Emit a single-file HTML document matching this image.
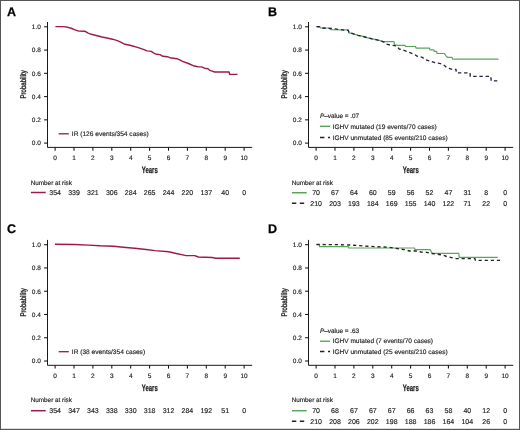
<!DOCTYPE html>
<html><head><meta charset="utf-8"><style>
html,body{margin:0;padding:0;background:#fff;}
body{width:520px;height:430px;overflow:hidden;}
svg{display:block;will-change:transform;}
text{font-family:"Liberation Sans", sans-serif;text-rendering:geometricPrecision;}
.t{fill:#222;stroke:#222;stroke-width:0.15px;}
</style></head><body>
<svg width="520" height="430" viewBox="0 0 520 430">
<rect x="0" y="0" width="520" height="430" fill="#fff"/>

<text x="7.0" y="15.95" font-size="12.5" font-weight="bold" fill="#000" stroke="#000" stroke-width="0.25">A</text>
<path d="M47.5,22.0 V147.4 H252.2" fill="none" stroke="#1a1a1a" stroke-width="1.0"/>
<path d="M44.1,143.10 H47.5" stroke="#111" stroke-width="1.05"/>
<text x="40.9" y="145.40" font-size="6.5" text-anchor="end" class="t">0.0</text>
<path d="M44.1,119.84 H47.5" stroke="#111" stroke-width="1.05"/>
<text x="40.9" y="122.14" font-size="6.5" text-anchor="end" class="t">0.2</text>
<path d="M44.1,96.58 H47.5" stroke="#111" stroke-width="1.05"/>
<text x="40.9" y="98.88" font-size="6.5" text-anchor="end" class="t">0.4</text>
<path d="M44.1,73.32 H47.5" stroke="#111" stroke-width="1.05"/>
<text x="40.9" y="75.62" font-size="6.5" text-anchor="end" class="t">0.6</text>
<path d="M44.1,50.06 H47.5" stroke="#111" stroke-width="1.05"/>
<text x="40.9" y="52.36" font-size="6.5" text-anchor="end" class="t">0.8</text>
<path d="M44.1,26.80 H47.5" stroke="#111" stroke-width="1.05"/>
<text x="40.9" y="29.10" font-size="6.5" text-anchor="end" class="t">1.0</text>
<path d="M55.10,147.4 V150.70000000000002" stroke="#111" stroke-width="1.05"/>
<text x="55.10" y="159.9" font-size="6.5" text-anchor="middle" class="t">0</text>
<path d="M74.00,147.4 V150.70000000000002" stroke="#111" stroke-width="1.05"/>
<text x="74.00" y="159.9" font-size="6.5" text-anchor="middle" class="t">1</text>
<path d="M92.90,147.4 V150.70000000000002" stroke="#111" stroke-width="1.05"/>
<text x="92.90" y="159.9" font-size="6.5" text-anchor="middle" class="t">2</text>
<path d="M111.80,147.4 V150.70000000000002" stroke="#111" stroke-width="1.05"/>
<text x="111.80" y="159.9" font-size="6.5" text-anchor="middle" class="t">3</text>
<path d="M130.70,147.4 V150.70000000000002" stroke="#111" stroke-width="1.05"/>
<text x="130.70" y="159.9" font-size="6.5" text-anchor="middle" class="t">4</text>
<path d="M149.60,147.4 V150.70000000000002" stroke="#111" stroke-width="1.05"/>
<text x="149.60" y="159.9" font-size="6.5" text-anchor="middle" class="t">5</text>
<path d="M168.50,147.4 V150.70000000000002" stroke="#111" stroke-width="1.05"/>
<text x="168.50" y="159.9" font-size="6.5" text-anchor="middle" class="t">6</text>
<path d="M187.40,147.4 V150.70000000000002" stroke="#111" stroke-width="1.05"/>
<text x="187.40" y="159.9" font-size="6.5" text-anchor="middle" class="t">7</text>
<path d="M206.30,147.4 V150.70000000000002" stroke="#111" stroke-width="1.05"/>
<text x="206.30" y="159.9" font-size="6.5" text-anchor="middle" class="t">8</text>
<path d="M225.20,147.4 V150.70000000000002" stroke="#111" stroke-width="1.05"/>
<text x="225.20" y="159.9" font-size="6.5" text-anchor="middle" class="t">9</text>
<path d="M244.10,147.4 V150.70000000000002" stroke="#111" stroke-width="1.05"/>
<text x="244.10" y="159.9" font-size="6.5" text-anchor="middle" class="t">10</text>
<text transform="translate(26.0,84.4) rotate(-90) scale(0.74,1)" font-size="8.2" text-anchor="middle" fill="#222" stroke="#222" stroke-width="0.35">Probability</text>
<text transform="translate(149.8,172.9) scale(0.64,1)" font-size="9.3" font-weight="bold" text-anchor="middle" fill="#222" stroke="#222" stroke-width="0.25">Years</text>
<polyline points="55.40,26.60 63.50,26.60 67.90,27.30 71.20,28.25 75.10,29.90 78.90,31.10 85.20,31.30 88.10,33.10 91.40,34.30 97.20,35.75 102.00,37.00 105.80,37.80 112.50,39.20 117.30,40.65 120.70,42.10 125.00,44.30 130.80,45.50 137.50,47.40 143.30,49.30 147.10,50.90 151.40,51.40 153.80,53.20 156.70,54.30 160.00,54.60 162.90,56.30 167.20,56.70 170.10,57.70 176.80,58.70 179.70,59.90 182.60,61.30 188.40,63.50 193.20,65.70 198.00,66.70 201.70,66.90 204.60,68.20 208.00,68.70 209.90,70.40 212.80,71.30 214.70,72.00 229.10,72.00 229.60,74.40 237.50,74.40" fill="none" stroke="#9e1a45" stroke-width="1.4" stroke-linejoin="round"/>
<path d="M58.7,133.79999999999998 H68.8" stroke="#85203f" stroke-width="1.3"/><text x="71.8" y="136.29999999999998" font-size="6.6" class="t">IR (126 events/354 cases)</text>
<text x="30.7" y="184.5" font-size="6.35" class="t">Number at risk</text>
<path d="M30.9,192.5 H45.7" stroke="#9e1a45" stroke-width="1.5"/>
<text x="55.10" y="195.00" font-size="7" text-anchor="middle" class="t">354</text>
<text x="74.00" y="195.00" font-size="7" text-anchor="middle" class="t">339</text>
<text x="92.90" y="195.00" font-size="7" text-anchor="middle" class="t">321</text>
<text x="111.80" y="195.00" font-size="7" text-anchor="middle" class="t">306</text>
<text x="130.70" y="195.00" font-size="7" text-anchor="middle" class="t">284</text>
<text x="149.60" y="195.00" font-size="7" text-anchor="middle" class="t">265</text>
<text x="168.50" y="195.00" font-size="7" text-anchor="middle" class="t">244</text>
<text x="187.40" y="195.00" font-size="7" text-anchor="middle" class="t">220</text>
<text x="206.30" y="195.00" font-size="7" text-anchor="middle" class="t">137</text>
<text x="225.20" y="195.00" font-size="7" text-anchor="middle" class="t">40</text>
<text x="244.10" y="195.00" font-size="7" text-anchor="middle" class="t">0</text>
<text x="268.0" y="15.95" font-size="12.5" font-weight="bold" fill="#000" stroke="#000" stroke-width="0.25">B</text>
<path d="M308.5,22.0 V147.4 H513.2" fill="none" stroke="#1a1a1a" stroke-width="1.0"/>
<path d="M305.1,143.10 H308.5" stroke="#111" stroke-width="1.05"/>
<text x="301.9" y="145.40" font-size="6.5" text-anchor="end" class="t">0.0</text>
<path d="M305.1,119.84 H308.5" stroke="#111" stroke-width="1.05"/>
<text x="301.9" y="122.14" font-size="6.5" text-anchor="end" class="t">0.2</text>
<path d="M305.1,96.58 H308.5" stroke="#111" stroke-width="1.05"/>
<text x="301.9" y="98.88" font-size="6.5" text-anchor="end" class="t">0.4</text>
<path d="M305.1,73.32 H308.5" stroke="#111" stroke-width="1.05"/>
<text x="301.9" y="75.62" font-size="6.5" text-anchor="end" class="t">0.6</text>
<path d="M305.1,50.06 H308.5" stroke="#111" stroke-width="1.05"/>
<text x="301.9" y="52.36" font-size="6.5" text-anchor="end" class="t">0.8</text>
<path d="M305.1,26.80 H308.5" stroke="#111" stroke-width="1.05"/>
<text x="301.9" y="29.10" font-size="6.5" text-anchor="end" class="t">1.0</text>
<path d="M316.10,147.4 V150.70000000000002" stroke="#111" stroke-width="1.05"/>
<text x="316.10" y="159.9" font-size="6.5" text-anchor="middle" class="t">0</text>
<path d="M335.00,147.4 V150.70000000000002" stroke="#111" stroke-width="1.05"/>
<text x="335.00" y="159.9" font-size="6.5" text-anchor="middle" class="t">1</text>
<path d="M353.90,147.4 V150.70000000000002" stroke="#111" stroke-width="1.05"/>
<text x="353.90" y="159.9" font-size="6.5" text-anchor="middle" class="t">2</text>
<path d="M372.80,147.4 V150.70000000000002" stroke="#111" stroke-width="1.05"/>
<text x="372.80" y="159.9" font-size="6.5" text-anchor="middle" class="t">3</text>
<path d="M391.70,147.4 V150.70000000000002" stroke="#111" stroke-width="1.05"/>
<text x="391.70" y="159.9" font-size="6.5" text-anchor="middle" class="t">4</text>
<path d="M410.60,147.4 V150.70000000000002" stroke="#111" stroke-width="1.05"/>
<text x="410.60" y="159.9" font-size="6.5" text-anchor="middle" class="t">5</text>
<path d="M429.50,147.4 V150.70000000000002" stroke="#111" stroke-width="1.05"/>
<text x="429.50" y="159.9" font-size="6.5" text-anchor="middle" class="t">6</text>
<path d="M448.40,147.4 V150.70000000000002" stroke="#111" stroke-width="1.05"/>
<text x="448.40" y="159.9" font-size="6.5" text-anchor="middle" class="t">7</text>
<path d="M467.30,147.4 V150.70000000000002" stroke="#111" stroke-width="1.05"/>
<text x="467.30" y="159.9" font-size="6.5" text-anchor="middle" class="t">8</text>
<path d="M486.20,147.4 V150.70000000000002" stroke="#111" stroke-width="1.05"/>
<text x="486.20" y="159.9" font-size="6.5" text-anchor="middle" class="t">9</text>
<path d="M505.10,147.4 V150.70000000000002" stroke="#111" stroke-width="1.05"/>
<text x="505.10" y="159.9" font-size="6.5" text-anchor="middle" class="t">10</text>
<text transform="translate(287.0,84.4) rotate(-90) scale(0.74,1)" font-size="8.2" text-anchor="middle" fill="#222" stroke="#222" stroke-width="0.35">Probability</text>
<text transform="translate(410.8,172.9) scale(0.64,1)" font-size="9.3" font-weight="bold" text-anchor="middle" fill="#222" stroke="#222" stroke-width="0.25">Years</text>
<polyline points="316.50,26.60 320.00,26.80 320.50,28.00 330.00,28.00 330.50,29.60 348.30,29.80 349.00,32.80 352.00,33.40 355.00,34.40 358.00,35.30 362.00,36.10 367.00,37.60 372.00,38.80 376.00,39.60 380.00,40.70 383.50,41.60 394.00,41.60 394.50,44.90 398.40,45.40 405.10,45.40 405.50,46.50 415.60,46.50 416.00,48.20 429.50,48.20 430.00,49.80 433.80,49.80 434.20,51.30 436.70,51.30 437.00,53.50 444.40,53.50 446.00,56.00 447.50,57.30 452.10,57.30 452.50,59.20 498.50,59.20" fill="none" stroke="#58a65a" stroke-width="1.2" stroke-linejoin="round"/>
<polyline points="316.50,26.60 320.00,26.80 322.00,28.00 333.00,28.60 344.60,30.20 348.30,30.40 349.00,32.80 352.00,33.40 355.00,34.40 358.00,35.30 362.00,36.10 367.00,37.60 372.00,38.80 376.00,39.60 380.00,40.70 383.50,41.80 385.90,44.00 390.70,45.20 396.50,45.90 399.30,49.00 404.10,50.40 408.80,52.30 413.70,54.00 417.50,56.30 422.30,57.30 425.20,59.70 430.00,61.00 434.80,62.60 440.60,63.60 444.40,65.50 447.30,67.90 452.10,69.30 456.00,69.30 456.30,72.80 470.00,72.80 470.30,76.40 490.90,76.40 491.20,80.80 498.50,80.80" fill="none" stroke="#2b1d45" stroke-width="1.35" stroke-linejoin="round" stroke-dasharray="3.4 2.8"/>
<text x="319.9" y="118.1" font-size="6.4" class="t"><tspan font-style="italic">P</tspan>–value = .07</text><path d="M320.0,126.3 H330.0" stroke="#58a65a" stroke-width="1.4"/><text x="332.6" y="128.6" font-size="6.55" class="t">IGHV mutated (19 events/70 cases)</text><path d="M320.0,137.5 H330.0" stroke="#2b1d45" stroke-width="1.4" stroke-dasharray="4.4 3.6 2 5"/><text x="332.6" y="139.8" font-size="6.55" class="t">IGHV unmutated (85 events/210 cases)</text>
<text x="291.7" y="184.5" font-size="6.35" class="t">Number at risk</text>
<path d="M291.9,192.75 H306.7" stroke="#58a65a" stroke-width="1.5"/>
<text x="316.10" y="195.25" font-size="7" text-anchor="middle" class="t">70</text>
<text x="335.00" y="195.25" font-size="7" text-anchor="middle" class="t">67</text>
<text x="353.90" y="195.25" font-size="7" text-anchor="middle" class="t">64</text>
<text x="372.80" y="195.25" font-size="7" text-anchor="middle" class="t">60</text>
<text x="391.70" y="195.25" font-size="7" text-anchor="middle" class="t">59</text>
<text x="410.60" y="195.25" font-size="7" text-anchor="middle" class="t">56</text>
<text x="429.50" y="195.25" font-size="7" text-anchor="middle" class="t">52</text>
<text x="448.40" y="195.25" font-size="7" text-anchor="middle" class="t">47</text>
<text x="467.30" y="195.25" font-size="7" text-anchor="middle" class="t">31</text>
<text x="486.20" y="195.25" font-size="7" text-anchor="middle" class="t">8</text>
<text x="505.10" y="195.25" font-size="7" text-anchor="middle" class="t">0</text>
<path d="M291.9,203.25 H306.7" stroke="#2b1d45" stroke-width="1.3" stroke-dasharray="4.4 3.5 4.4 10"/>
<text x="316.10" y="205.75" font-size="7" text-anchor="middle" class="t">210</text>
<text x="335.00" y="205.75" font-size="7" text-anchor="middle" class="t">203</text>
<text x="353.90" y="205.75" font-size="7" text-anchor="middle" class="t">193</text>
<text x="372.80" y="205.75" font-size="7" text-anchor="middle" class="t">184</text>
<text x="391.70" y="205.75" font-size="7" text-anchor="middle" class="t">169</text>
<text x="410.60" y="205.75" font-size="7" text-anchor="middle" class="t">155</text>
<text x="429.50" y="205.75" font-size="7" text-anchor="middle" class="t">140</text>
<text x="448.40" y="205.75" font-size="7" text-anchor="middle" class="t">122</text>
<text x="467.30" y="205.75" font-size="7" text-anchor="middle" class="t">71</text>
<text x="486.20" y="205.75" font-size="7" text-anchor="middle" class="t">22</text>
<text x="505.10" y="205.75" font-size="7" text-anchor="middle" class="t">0</text>
<text x="7.0" y="233.45" font-size="12.5" font-weight="bold" fill="#000" stroke="#000" stroke-width="0.25">C</text>
<path d="M47.5,239.9 V365.3 H252.2" fill="none" stroke="#1a1a1a" stroke-width="1.0"/>
<path d="M44.1,361.00 H47.5" stroke="#111" stroke-width="1.05"/>
<text x="40.9" y="363.30" font-size="6.5" text-anchor="end" class="t">0.0</text>
<path d="M44.1,337.74 H47.5" stroke="#111" stroke-width="1.05"/>
<text x="40.9" y="340.04" font-size="6.5" text-anchor="end" class="t">0.2</text>
<path d="M44.1,314.48 H47.5" stroke="#111" stroke-width="1.05"/>
<text x="40.9" y="316.78" font-size="6.5" text-anchor="end" class="t">0.4</text>
<path d="M44.1,291.22 H47.5" stroke="#111" stroke-width="1.05"/>
<text x="40.9" y="293.52" font-size="6.5" text-anchor="end" class="t">0.6</text>
<path d="M44.1,267.96 H47.5" stroke="#111" stroke-width="1.05"/>
<text x="40.9" y="270.26" font-size="6.5" text-anchor="end" class="t">0.8</text>
<path d="M44.1,244.70 H47.5" stroke="#111" stroke-width="1.05"/>
<text x="40.9" y="247.00" font-size="6.5" text-anchor="end" class="t">1.0</text>
<path d="M55.10,365.3 V368.6" stroke="#111" stroke-width="1.05"/>
<text x="55.10" y="377.8" font-size="6.5" text-anchor="middle" class="t">0</text>
<path d="M74.00,365.3 V368.6" stroke="#111" stroke-width="1.05"/>
<text x="74.00" y="377.8" font-size="6.5" text-anchor="middle" class="t">1</text>
<path d="M92.90,365.3 V368.6" stroke="#111" stroke-width="1.05"/>
<text x="92.90" y="377.8" font-size="6.5" text-anchor="middle" class="t">2</text>
<path d="M111.80,365.3 V368.6" stroke="#111" stroke-width="1.05"/>
<text x="111.80" y="377.8" font-size="6.5" text-anchor="middle" class="t">3</text>
<path d="M130.70,365.3 V368.6" stroke="#111" stroke-width="1.05"/>
<text x="130.70" y="377.8" font-size="6.5" text-anchor="middle" class="t">4</text>
<path d="M149.60,365.3 V368.6" stroke="#111" stroke-width="1.05"/>
<text x="149.60" y="377.8" font-size="6.5" text-anchor="middle" class="t">5</text>
<path d="M168.50,365.3 V368.6" stroke="#111" stroke-width="1.05"/>
<text x="168.50" y="377.8" font-size="6.5" text-anchor="middle" class="t">6</text>
<path d="M187.40,365.3 V368.6" stroke="#111" stroke-width="1.05"/>
<text x="187.40" y="377.8" font-size="6.5" text-anchor="middle" class="t">7</text>
<path d="M206.30,365.3 V368.6" stroke="#111" stroke-width="1.05"/>
<text x="206.30" y="377.8" font-size="6.5" text-anchor="middle" class="t">8</text>
<path d="M225.20,365.3 V368.6" stroke="#111" stroke-width="1.05"/>
<text x="225.20" y="377.8" font-size="6.5" text-anchor="middle" class="t">9</text>
<path d="M244.10,365.3 V368.6" stroke="#111" stroke-width="1.05"/>
<text x="244.10" y="377.8" font-size="6.5" text-anchor="middle" class="t">10</text>
<text transform="translate(26.0,302.3) rotate(-90) scale(0.74,1)" font-size="8.2" text-anchor="middle" fill="#222" stroke="#222" stroke-width="0.35">Probability</text>
<text transform="translate(149.8,390.8) scale(0.64,1)" font-size="9.3" font-weight="bold" text-anchor="middle" fill="#222" stroke="#222" stroke-width="0.25">Years</text>
<polyline points="55.00,244.20 75.00,244.50 88.50,245.10 100.00,245.80 113.80,246.30 123.10,247.20 134.60,248.30 146.10,249.50 155.00,250.60 168.80,251.80 174.00,253.00 186.10,255.60 194.80,255.60 198.30,257.00 212.10,257.50 215.60,258.20 239.80,258.20" fill="none" stroke="#9e1a45" stroke-width="1.4" stroke-linejoin="round"/>
<path d="M58.7,351.7 H68.8" stroke="#85203f" stroke-width="1.3"/><text x="71.8" y="353.7" font-size="6.6" class="t">IR (38 events/354 cases)</text>
<text x="30.7" y="402.4" font-size="6.35" class="t">Number at risk</text>
<path d="M30.9,410.70000000000005 H45.7" stroke="#9e1a45" stroke-width="1.5"/>
<text x="55.10" y="413.20" font-size="7" text-anchor="middle" class="t">354</text>
<text x="74.00" y="413.20" font-size="7" text-anchor="middle" class="t">347</text>
<text x="92.90" y="413.20" font-size="7" text-anchor="middle" class="t">343</text>
<text x="111.80" y="413.20" font-size="7" text-anchor="middle" class="t">338</text>
<text x="130.70" y="413.20" font-size="7" text-anchor="middle" class="t">330</text>
<text x="149.60" y="413.20" font-size="7" text-anchor="middle" class="t">318</text>
<text x="168.50" y="413.20" font-size="7" text-anchor="middle" class="t">312</text>
<text x="187.40" y="413.20" font-size="7" text-anchor="middle" class="t">284</text>
<text x="206.30" y="413.20" font-size="7" text-anchor="middle" class="t">192</text>
<text x="225.20" y="413.20" font-size="7" text-anchor="middle" class="t">51</text>
<text x="244.10" y="413.20" font-size="7" text-anchor="middle" class="t">0</text>
<text x="268.0" y="233.45" font-size="12.5" font-weight="bold" fill="#000" stroke="#000" stroke-width="0.25">D</text>
<path d="M308.5,239.9 V365.3 H513.2" fill="none" stroke="#1a1a1a" stroke-width="1.0"/>
<path d="M305.1,361.00 H308.5" stroke="#111" stroke-width="1.05"/>
<text x="301.9" y="363.30" font-size="6.5" text-anchor="end" class="t">0.0</text>
<path d="M305.1,337.74 H308.5" stroke="#111" stroke-width="1.05"/>
<text x="301.9" y="340.04" font-size="6.5" text-anchor="end" class="t">0.2</text>
<path d="M305.1,314.48 H308.5" stroke="#111" stroke-width="1.05"/>
<text x="301.9" y="316.78" font-size="6.5" text-anchor="end" class="t">0.4</text>
<path d="M305.1,291.22 H308.5" stroke="#111" stroke-width="1.05"/>
<text x="301.9" y="293.52" font-size="6.5" text-anchor="end" class="t">0.6</text>
<path d="M305.1,267.96 H308.5" stroke="#111" stroke-width="1.05"/>
<text x="301.9" y="270.26" font-size="6.5" text-anchor="end" class="t">0.8</text>
<path d="M305.1,244.70 H308.5" stroke="#111" stroke-width="1.05"/>
<text x="301.9" y="247.00" font-size="6.5" text-anchor="end" class="t">1.0</text>
<path d="M316.10,365.3 V368.6" stroke="#111" stroke-width="1.05"/>
<text x="316.10" y="377.8" font-size="6.5" text-anchor="middle" class="t">0</text>
<path d="M335.00,365.3 V368.6" stroke="#111" stroke-width="1.05"/>
<text x="335.00" y="377.8" font-size="6.5" text-anchor="middle" class="t">1</text>
<path d="M353.90,365.3 V368.6" stroke="#111" stroke-width="1.05"/>
<text x="353.90" y="377.8" font-size="6.5" text-anchor="middle" class="t">2</text>
<path d="M372.80,365.3 V368.6" stroke="#111" stroke-width="1.05"/>
<text x="372.80" y="377.8" font-size="6.5" text-anchor="middle" class="t">3</text>
<path d="M391.70,365.3 V368.6" stroke="#111" stroke-width="1.05"/>
<text x="391.70" y="377.8" font-size="6.5" text-anchor="middle" class="t">4</text>
<path d="M410.60,365.3 V368.6" stroke="#111" stroke-width="1.05"/>
<text x="410.60" y="377.8" font-size="6.5" text-anchor="middle" class="t">5</text>
<path d="M429.50,365.3 V368.6" stroke="#111" stroke-width="1.05"/>
<text x="429.50" y="377.8" font-size="6.5" text-anchor="middle" class="t">6</text>
<path d="M448.40,365.3 V368.6" stroke="#111" stroke-width="1.05"/>
<text x="448.40" y="377.8" font-size="6.5" text-anchor="middle" class="t">7</text>
<path d="M467.30,365.3 V368.6" stroke="#111" stroke-width="1.05"/>
<text x="467.30" y="377.8" font-size="6.5" text-anchor="middle" class="t">8</text>
<path d="M486.20,365.3 V368.6" stroke="#111" stroke-width="1.05"/>
<text x="486.20" y="377.8" font-size="6.5" text-anchor="middle" class="t">9</text>
<path d="M505.10,365.3 V368.6" stroke="#111" stroke-width="1.05"/>
<text x="505.10" y="377.8" font-size="6.5" text-anchor="middle" class="t">10</text>
<text transform="translate(287.0,302.3) rotate(-90) scale(0.74,1)" font-size="8.2" text-anchor="middle" fill="#222" stroke="#222" stroke-width="0.35">Probability</text>
<text transform="translate(410.8,390.8) scale(0.64,1)" font-size="9.3" font-weight="bold" text-anchor="middle" fill="#222" stroke="#222" stroke-width="0.25">Years</text>
<polyline points="316.50,244.50 319.40,244.50 319.60,246.70 348.30,246.70 348.60,248.00 414.70,248.00 415.00,249.60 430.10,249.60 432.00,253.30 458.80,253.30 459.20,257.40 497.80,257.40" fill="none" stroke="#58a65a" stroke-width="1.2" stroke-linejoin="round"/>
<polyline points="316.50,244.50 335.00,244.60 350.00,245.00 368.50,246.30 388.50,247.20 395.00,248.20 400.80,249.10 404.60,249.60 409.40,251.00 415.70,251.00 421.00,252.00 426.70,252.30 431.50,253.50 437.30,254.20 442.10,254.90 447.50,256.75 456.25,258.60 475.00,258.60 475.40,260.30 500.60,260.30" fill="none" stroke="#222" stroke-width="1.35" stroke-linejoin="round" stroke-dasharray="3.2 2.9"/>
<text x="319.9" y="332.6" font-size="6.4" class="t"><tspan font-style="italic">P</tspan>–value = .63</text><path d="M320.0,341.2 H330.0" stroke="#58a65a" stroke-width="1.4"/><text x="332.6" y="343.0" font-size="6.55" class="t">IGHV mutated (7 events/70 cases)</text><path d="M320.0,351.5 H330.0" stroke="#222" stroke-width="1.4" stroke-dasharray="4.4 3.6 2 5"/><text x="332.6" y="353.8" font-size="6.55" class="t">IGHV unmutated (25 events/210 cases)</text>
<text x="291.7" y="402.4" font-size="6.35" class="t">Number at risk</text>
<path d="M291.9,410.70000000000005 H306.7" stroke="#58a65a" stroke-width="1.5"/>
<text x="316.10" y="413.20" font-size="7" text-anchor="middle" class="t">70</text>
<text x="335.00" y="413.20" font-size="7" text-anchor="middle" class="t">68</text>
<text x="353.90" y="413.20" font-size="7" text-anchor="middle" class="t">67</text>
<text x="372.80" y="413.20" font-size="7" text-anchor="middle" class="t">67</text>
<text x="391.70" y="413.20" font-size="7" text-anchor="middle" class="t">67</text>
<text x="410.60" y="413.20" font-size="7" text-anchor="middle" class="t">66</text>
<text x="429.50" y="413.20" font-size="7" text-anchor="middle" class="t">63</text>
<text x="448.40" y="413.20" font-size="7" text-anchor="middle" class="t">58</text>
<text x="467.30" y="413.20" font-size="7" text-anchor="middle" class="t">40</text>
<text x="486.20" y="413.20" font-size="7" text-anchor="middle" class="t">12</text>
<text x="505.10" y="413.20" font-size="7" text-anchor="middle" class="t">0</text>
<path d="M291.9,421.25 H306.7" stroke="#222" stroke-width="1.3" stroke-dasharray="4.4 3.5 4.4 10"/>
<text x="316.10" y="423.75" font-size="7" text-anchor="middle" class="t">210</text>
<text x="335.00" y="423.75" font-size="7" text-anchor="middle" class="t">208</text>
<text x="353.90" y="423.75" font-size="7" text-anchor="middle" class="t">206</text>
<text x="372.80" y="423.75" font-size="7" text-anchor="middle" class="t">202</text>
<text x="391.70" y="423.75" font-size="7" text-anchor="middle" class="t">198</text>
<text x="410.60" y="423.75" font-size="7" text-anchor="middle" class="t">188</text>
<text x="429.50" y="423.75" font-size="7" text-anchor="middle" class="t">186</text>
<text x="448.40" y="423.75" font-size="7" text-anchor="middle" class="t">164</text>
<text x="467.30" y="423.75" font-size="7" text-anchor="middle" class="t">104</text>
<text x="486.20" y="423.75" font-size="7" text-anchor="middle" class="t">26</text>
<text x="505.10" y="423.75" font-size="7" text-anchor="middle" class="t">0</text>
<rect x="0" y="0" width="520" height="1" fill="#555"/><rect x="0" y="0" width="1" height="430" fill="#555"/><rect x="519" y="0" width="1" height="430" fill="#555"/><rect x="0" y="428.8" width="520" height="1.2" fill="#555"/>
</svg></body></html>
